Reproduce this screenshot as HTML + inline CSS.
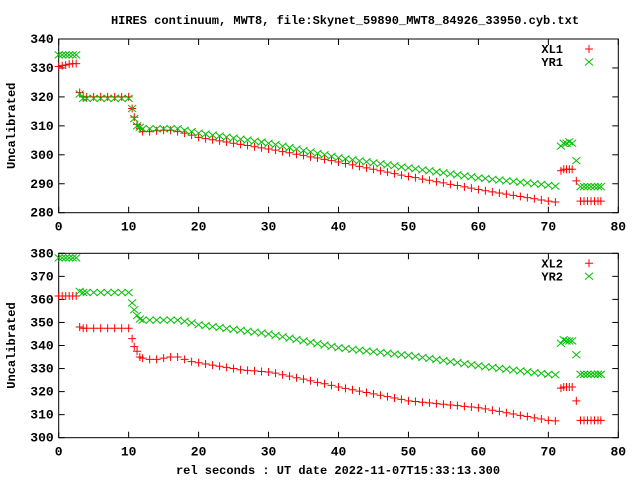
<!DOCTYPE html>
<html><head><meta charset="utf-8"><style>
body{margin:0;background:#fff}
svg text{font-family:"Liberation Mono",monospace;font-weight:bold;font-size:12px;fill:#000}
svg text.tk{font-size:13px}
</style></head><body>
<svg id="c" width="640" height="480" viewBox="0 0 640 480" xmlns="http://www.w3.org/2000/svg">
<text x="345" y="24" text-anchor="middle">HIRES continuum, MWT8, file:Skynet_59890_MWT8_84926_33950.cyb.txt</text>
<text x="338" y="474" text-anchor="middle">rel seconds : UT date 2022-11-07T15:33:13.300</text>
</svg>
<script>
const times=[0,0.5,1,1.5,2,2.5,3,3.5,4,5,6,7,8,9,10,10.5,10.8,11.2,11.6,
12,13,14,15,16,17,18,19,20,21,22,23,24,25,26,27,28,29,30,31,32,33,34,35,36,37,38,39,40,41,42,43,44,45,46,47,48,49,50,51,52,53,54,55,56,57,58,59,60,61,62,63,64,65,66,67,68,69,70,71,
71.8,72.2,72.6,73.0,73.4,74.0,74.6,75.1,75.6,76.1,76.6,77.1,77.5];
const XL1=[330.5,330.8,331,331.3,331.5,331.5,321.5,320,320,320,320,320,320,320,320,316,313,310.5,309,
308,308,308.3,308.5,308.5,308,307.5,306.8,306,305.6,305.2,304.8,304.4,304,303.6,303.2,302.8,302.4,302,301.6,301.1,300.7,300.2,299.8,299.3,298.9,298.4,298,297.5,297,296.5,296,295.5,295,294.5,294,293.5,293,292.5,292.1,291.6,291.2,290.7,290.3,289.8,289.4,288.9,288.5,288,287.6,287.2,286.8,286.4,286,285.6,285.2,284.8,284.4,284,283.7,
294.5,295,295,295,295,291,284,284,284,284,284,284,284];
const YR1=[334.5,334.5,334.5,334.5,334.5,334.5,321,319.5,319.5,319.5,319.5,319.5,319.5,319.5,319.5,316,312.5,310,309.5,
309,309,309,309,309,309,308.5,308,307.5,307.2,306.8,306.5,306.1,305.8,305.4,305.1,304.7,304.4,304,303.5,303,302.5,302,301.5,301,300.5,300,299.5,299,298.6,298.3,297.9,297.6,297.2,296.9,296.5,296.2,295.8,295.5,295.2,294.8,294.5,294.1,293.8,293.4,293.1,292.7,292.4,292,291.8,291.5,291.3,291,290.8,290.5,290.3,290,289.8,289.5,289.2,
303,304,304,304.5,304,298,289,289,289,289,289,289,289];
const XL2=[361.5,361.5,361.5,361.5,361.5,361.5,348,347.5,347.5,347.5,347.5,347.5,347.5,347.5,347.5,343,339.5,337.5,335,
334.5,334,334,334.5,335,335,334,333,332.5,332,331.5,331,330.5,330,329.5,329.2,329,328.7,328.5,328,327.3,326.7,326,325.4,324.7,324,323.4,322.7,322,321.4,320.8,320.2,319.6,319,318.4,317.8,317.2,316.6,316,315.7,315.4,315.1,314.8,314.5,314.2,313.9,313.6,313.3,313,312.5,311.9,311.4,310.8,310.3,309.7,309.2,308.6,308.1,307.5,307.3,
321.5,322,322,322,322,316,307.5,307.5,307.5,307.5,307.5,307.5,307.5];
const YR2=[378,378,378,378,378,378,363.5,363,363,363,363,363,363,363,363,358.5,355.5,353,351.5,
351,351,351,351,351,351,350.5,349.8,349,348.6,348.2,347.8,347.4,347,346.6,346.2,345.8,345.4,345,344.4,343.8,343.2,342.6,342,341.4,340.8,340.2,339.6,339,338.7,338.3,338,337.6,337.3,337,336.7,336.3,336,335.7,335.3,334.8,334.4,333.9,333.5,333,332.6,332.1,331.7,331.2,330.8,330.5,330.1,329.7,329.3,329,328.6,328.2,327.9,327.5,327.3,
341,342.5,342,342,342,336,327.5,327.5,327.5,327.5,327.5,327.5,327.5];
const xTicks=[0,10,20,30,40,50,60,70,80];
const yTicksTop=[280,290,300,310,320,330,340];
const yTicksBot=[300,310,320,330,340,350,360,370,380];

const svg=document.getElementById('c');
const NS='http://www.w3.org/2000/svg';
function mk(tag,attrs,parent){const e=document.createElementNS(NS,tag);for(const k in attrs)e.setAttribute(k,attrs[k]);(parent||svg).appendChild(e);return e;}
const L=58.7,R=618.3;
const sx=v=>L+(v-0)/(80-0)*(R-L);

function panel(name,top,bot,ymin,ymax,yt,s1,s2,n1,n2){
  const sy=v=>bot-(v-ymin)/(ymax-ymin)*(bot-top);
  const g=mk('g',{});
  
  
  const f=mk('rect',{x:L,y:top,width:R-L,height:bot-top,fill:'none',stroke:'#000','stroke-width':1},g);
  
  
  yt.forEach(v=>{
    const y=sy(v);
    mk('line',{x1:L,x2:L+6,y1:y,y2:y,stroke:'#000'},g);
    mk('line',{x1:R,x2:R-6,y1:y,y2:y,stroke:'#000'},g);
    const t=mk('text',{x:L-5,y:y+4,'text-anchor':'end','class':'tk'},g);
    t.textContent=v;
    
    
  });
  xTicks.forEach(v=>{
    const x=sx(v);
    mk('line',{x1:x,x2:x,y1:bot,y2:bot-6,stroke:'#000'},g);
    mk('line',{x1:x,x2:x,y1:top,y2:top+6,stroke:'#000'},g);
    const t=mk('text',{x:x,y:bot+18,'text-anchor':'middle','class':'tk'},g);
    t.textContent=v;
    
    
  });
  const yl=mk('text',{x:15,y:(top+bot)/2,'text-anchor':'middle',transform:`rotate(-90 15 ${(top+bot)/2})`},g);
  yl.textContent='Uncalibrated';
  
  
  const plus=(x,y,p)=>mk('path',{d:`M${x-4},${y}h8M${x},${y-4}v8`,stroke:'#ff0000','stroke-width':1,fill:'none'},p);
  const cross=(x,y,p)=>mk('path',{d:`M${x-4},${y-3.5}l8,7M${x-4},${y+3.5}l8,-7`,stroke:'#00c000','stroke-width':1,fill:'none'},p);
  const g1=mk('g',{},g);
  
  
  const g2=mk('g',{},g);
  
  
  times.forEach((t,i)=>{plus(sx(t),sy(s1[i]),g1);});
  times.forEach((t,i)=>{cross(sx(t),sy(s2[i]),g2);});
  const l1=mk('text',{x:563,y:top+14,'text-anchor':'end'},g);
  l1.textContent=n1;
  
  
  plus(589,top+10,g);
  const l2=mk('text',{x:563,y:top+27,'text-anchor':'end'},g);
  l2.textContent=n2;
  
  
  cross(589,top+23,g);
}
panel('top-panel',39,212.7,280,340,yTicksTop,XL1,YR1,'XL1','YR1');
panel('bottom-panel',253.3,437.7,300,380,yTicksBot,XL2,YR2,'XL2','YR2');
</script>
</body></html>
